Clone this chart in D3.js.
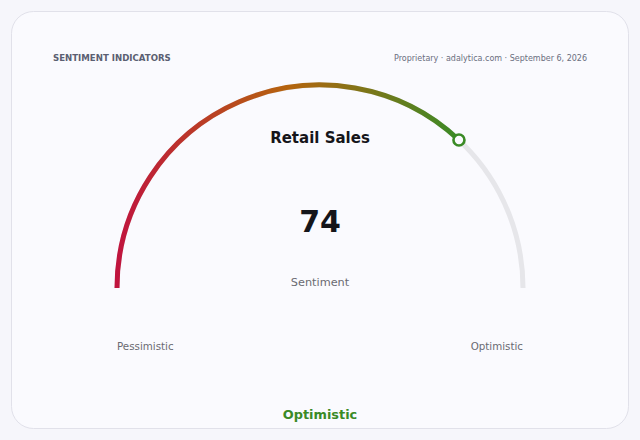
<!DOCTYPE html>
<html><head><meta charset="utf-8">
<script src="https://cdn.jsdelivr.net/npm/d3@7"></script>
<style>
html,body{margin:0;padding:0;background:#f6f6fb;}
svg{display:block;font-family:"DejaVu Sans",sans-serif;}
</style></head>
<body><svg id="c" width="640" height="440"></svg>
<script>
const title = "Retail Sales";
const value = 74;
const domain = [0, 100];
const endLabels = ["Pessimistic", "Optimistic"];
const status = "Optimistic";
const header = "SENTIMENT INDICATORS";
const source = "Proprietary · adalytica.com · September 6, 2026";
const gradColors = ["#c0143e", "#b5640e", "#3a8a26"];

const svg = d3.select("#c");
svg.append("rect").attr("x",11.5).attr("y",11.5).attr("width",617).attr("height",417)
  .attr("rx",22).attr("fill","#fafafe").attr("stroke","#e1e1ea");

svg.append("text").attr("x",53).attr("y",61).attr("font-size",8.6).attr("font-weight","bold")
  .attr("fill","#5b5f72").text(header);
svg.append("text").attr("x",587).attr("y",61).attr("text-anchor","end").attr("font-size",8)
  .attr("fill","#6a6e7e").text(source);

const cx = 320, cy = 288, r = 203;
const angle = d3.scaleLinear().domain(domain).range([-Math.PI/2, Math.PI/2]);
const g = svg.append("g").attr("transform",`translate(${cx},${cy})`);

const arc = d3.arc().innerRadius(r).outerRadius(r);
g.append("path").attr("d", arc({startAngle:angle(domain[0]), endAngle:angle(domain[1])}))
  .attr("fill","none").attr("stroke","#e6e6ea").attr("stroke-width",5).attr("stroke-linecap","round");

const px = r*Math.sin(angle(value)), py = -r*Math.cos(angle(value));
const defs = svg.append("defs");
const lg = defs.append("linearGradient").attr("id","gg").attr("gradientUnits","userSpaceOnUse")
  .attr("x1",-r).attr("y1",0).attr("x2",px).attr("y2",0);
gradColors.forEach((c,i)=>lg.append("stop").attr("offset",i/(gradColors.length-1)).attr("stop-color",c));

g.append("path").attr("d", arc({startAngle:angle(domain[0]), endAngle:angle(value)}))
  .attr("fill","none").attr("stroke","url(#gg)").attr("stroke-width",5).attr("stroke-linecap","round");

svg.append("circle").attr("cx",cx+px).attr("cy",cy+py).attr("r",5.5)
  .attr("fill","#fafafe").attr("stroke","#3a8a26").attr("stroke-width",2.6);

svg.append("text").attr("x",cx).attr("y",143).attr("text-anchor","middle").attr("font-size",15)
  .attr("font-weight","bold").attr("fill","#15151a").text(title);
svg.append("text").attr("x",cx).attr("y",232).attr("text-anchor","middle").attr("font-size",30)
  .attr("font-weight","bold").attr("fill","#15151a").text(value);
svg.append("text").attr("x",cx).attr("y",286).attr("text-anchor","middle").attr("font-size",11.3)
  .attr("fill","#6a6a72").text("Sentiment");

svg.append("text").attr("x",cx - r).attr("y",350).attr("font-size",10.3)
  .attr("fill","#6a6a72").text(endLabels[0]);
svg.append("text").attr("x",cx + r).attr("y",350).attr("text-anchor","end").attr("font-size",10.3)
  .attr("fill","#6a6a72").text(endLabels[1]);

svg.append("text").attr("x",cx).attr("y",419).attr("text-anchor","middle").attr("font-size",12.9)
  .attr("font-weight","bold").attr("fill","#3a8a26").text(status);
</script></body></html>
